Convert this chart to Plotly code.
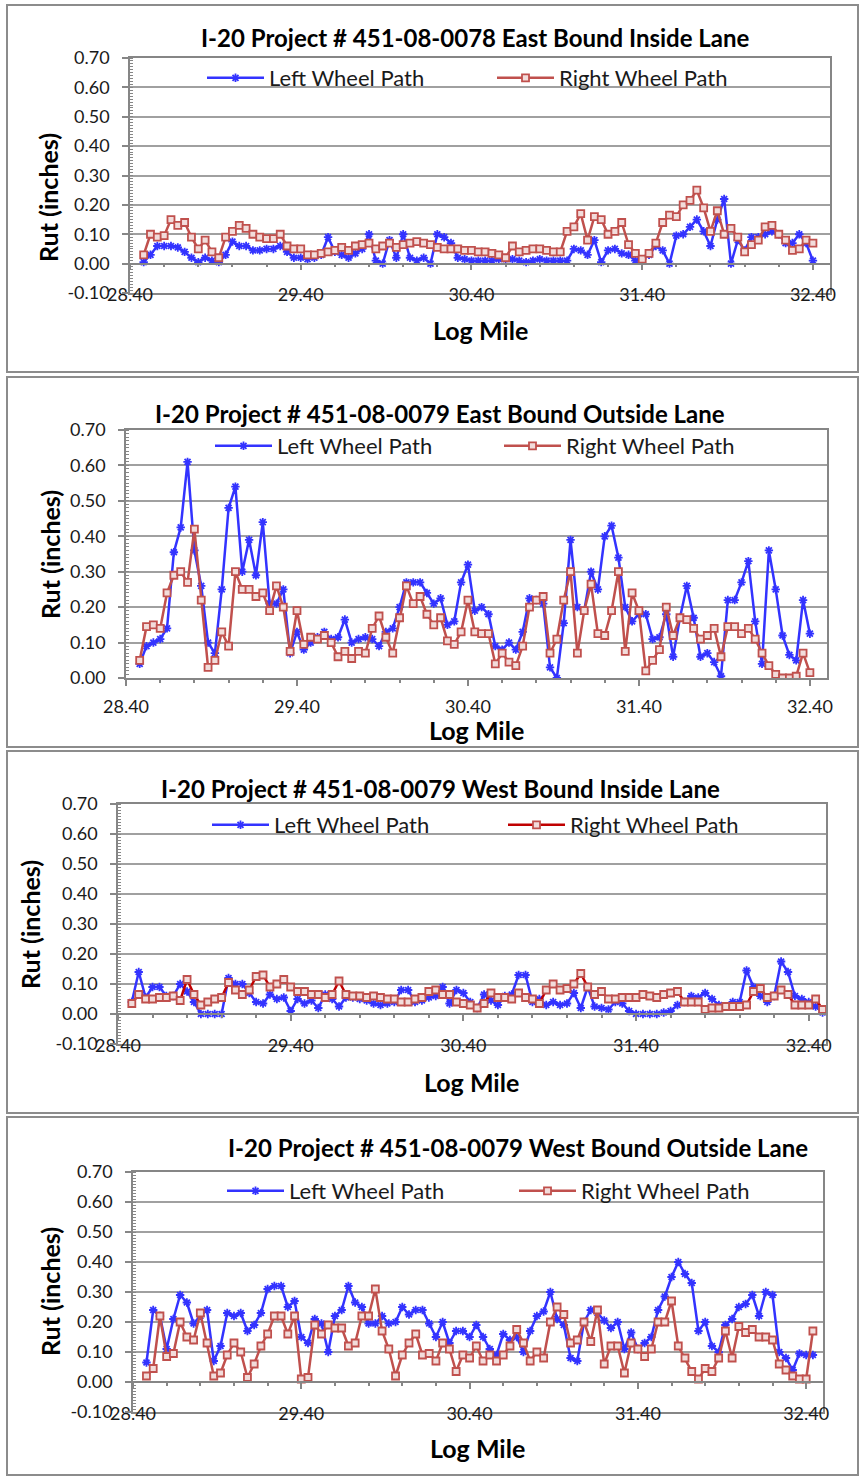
import plotly.graph_objects as go

# Log mile stations (every 0.04 mile)
MILES = [28.48, 28.52, 28.56, 28.60, 28.64, 28.68, 28.72, 28.76, 28.80, 28.84,
         28.88, 28.92, 28.96, 29.00, 29.04, 29.08, 29.12, 29.16, 29.20, 29.24,
         29.28, 29.32, 29.36, 29.40, 29.44, 29.48, 29.52, 29.56, 29.60, 29.64,
         29.68, 29.72, 29.76, 29.80, 29.84, 29.88, 29.92, 29.96, 30.00, 30.04,
         30.08, 30.12, 30.16, 30.20, 30.24, 30.28, 30.32, 30.36, 30.40, 30.44,
         30.48, 30.52, 30.56, 30.60, 30.64, 30.68, 30.72, 30.76, 30.80, 30.84,
         30.88, 30.92, 30.96, 31.00, 31.04, 31.08, 31.12, 31.16, 31.20, 31.24,
         31.28, 31.32, 31.36, 31.40, 31.44, 31.48, 31.52, 31.56, 31.60, 31.64,
         31.68, 31.72, 31.76, 31.80, 31.84, 31.88, 31.92, 31.96, 32.00, 32.04,
         32.08, 32.12, 32.16, 32.20, 32.24, 32.28, 32.32, 32.36, 32.40, 32.44,
         32.48]

X_TICKS = [28.4, 29.4, 30.4, 31.4, 32.4]
X_LABELS = ["28.40", "29.40", "30.40", "31.40", "32.40"]
Y_TICKS = [-0.1, 0.0, 0.1, 0.2, 0.3, 0.4, 0.5, 0.6, 0.7]
Y_LABELS = ["-0.10", "0.00", "0.10", "0.20", "0.30", "0.40", "0.50", "0.60", "0.70"]

TITLES = [
    "I-20 Project # 451-08-0078 East Bound Inside Lane",
    "I-20 Project # 451-08-0079 East Bound Outside Lane",
    "I-20 Project # 451-08-0079 West Bound Inside Lane",
    "I-20 Project # 451-08-0079 West Bound Outside Lane",
]
SERIES_NAMES = ["Left Wheel Path", "Right Wheel Path"]

# Rut depth (inches) – 0078 East Bound Inside Lane
eb_in_left = [0.005, 0.03, 0.06, 0.06, 0.06, 0.055, 0.04, 0.02, 0.005, 0.02,
              0.01, 0.005, 0.03, 0.075, 0.06, 0.06, 0.045, 0.045, 0.05, 0.05,
              0.06, 0.04, 0.02, 0.02, 0.015, 0.02, 0.03, 0.09, 0.04, 0.03,
              0.02, 0.035, 0.05, 0.10, 0.01, 0.0, 0.08, 0.02, 0.10, 0.02,
              0.01, 0.02, 0.0, 0.10, 0.09, 0.07, 0.02, 0.015, 0.01,
              0.01, 0.01, 0.01, 0.015, 0.015, 0.015, 0.01, 0.005, 0.01, 0.015,
              0.01, 0.01, 0.01, 0.01, 0.05, 0.045, 0.03, 0.08, 0.005, 0.045,
              0.05, 0.035, 0.03, 0.01, 0.015, 0.03, 0.06, 0.045, 0.0, 0.095,
              0.10, 0.125, 0.15, 0.11, 0.06, 0.15, 0.22, 0.0, 0.08, 0.045,
              0.09, 0.09, 0.10, 0.11, 0.10, 0.07, 0.07, 0.10, 0.07, 0.01]
eb_in_right = [0.03, 0.10, 0.09, 0.095, 0.15, 0.13, 0.14, 0.09, 0.05, 0.08,
               0.04, 0.02, 0.09, 0.11, 0.13, 0.12, 0.10, 0.09, 0.085, 0.085,
               0.10, 0.06, 0.05, 0.05, 0.03, 0.03, 0.035, 0.04, 0.045, 0.055,
               0.045, 0.06, 0.065, 0.07, 0.05, 0.06, 0.07, 0.055, 0.065, 0.07,
               0.075, 0.07, 0.065, 0.055, 0.05, 0.05, 0.05, 0.045, 0.045,
               0.04, 0.04, 0.035, 0.03, 0.02, 0.06, 0.04, 0.045, 0.05, 0.05,
               0.045, 0.04, 0.04, 0.11, 0.125, 0.17, 0.08, 0.16, 0.15, 0.10,
               0.11, 0.14, 0.065, 0.035, 0.015, 0.035, 0.07, 0.14, 0.165, 0.16,
               0.20, 0.215, 0.25, 0.19, 0.11, 0.18, 0.10, 0.12, 0.09, 0.04,
               0.065, 0.08, 0.125, 0.13, 0.10, 0.08, 0.045, 0.05, 0.08, 0.07]

# 0079 East Bound Outside Lane
eb_out_left = [0.04, 0.09, 0.10, 0.11, 0.14, 0.355, 0.425, 0.61, 0.36, 0.26,
               0.10, 0.07, 0.25, 0.48, 0.54, 0.30, 0.39, 0.29, 0.44, 0.21,
               0.21, 0.25, 0.07, 0.13, 0.08, 0.10, 0.115, 0.13, 0.11, 0.115,
               0.165, 0.10, 0.11, 0.115, 0.11, 0.09, 0.13, 0.14, 0.20, 0.27,
               0.27, 0.27, 0.24,
               0.21, 0.225, 0.15, 0.16, 0.27, 0.32, 0.19, 0.20, 0.18, 0.09,
               0.08, 0.10, 0.08, 0.13, 0.225, 0.22, 0.21, 0.03, 0.0, 0.155,
               0.39, 0.20, 0.19, 0.30, 0.25, 0.40, 0.43, 0.34, 0.20, 0.16,
               0.18, 0.18, 0.11, 0.115, 0.18, 0.06, 0.17, 0.26, 0.17, 0.06,
               0.07, 0.045, 0.005, 0.22, 0.22, 0.27, 0.33, 0.16, 0.04, 0.36,
               0.25, 0.12, 0.065, 0.05, 0.22, 0.125]
eb_out_right = [0.05, 0.145, 0.15, 0.14, 0.24, 0.29, 0.30, 0.27, 0.42, 0.22,
                0.03, 0.05, 0.13, 0.09, 0.30, 0.25, 0.25, 0.23, 0.24, 0.19,
                0.26, 0.20, 0.075, 0.19, 0.095, 0.115, 0.11, 0.12, 0.10, 0.06,
                0.075, 0.055, 0.075, 0.07, 0.14, 0.175, 0.115, 0.07, 0.17, 0.26,
                0.21, 0.23, 0.18,
                0.15, 0.17, 0.105, 0.095, 0.13, 0.22, 0.13, 0.125, 0.125, 0.04,
                0.07, 0.045, 0.035, 0.09, 0.20, 0.22, 0.23, 0.07, 0.11, 0.22,
                0.30, 0.07, 0.19, 0.265, 0.125, 0.12, 0.19, 0.30, 0.075, 0.24,
                0.19, 0.02, 0.05, 0.08, 0.20, 0.12, 0.17, 0.165, 0.14, 0.11,
                0.12, 0.14, 0.06, 0.145, 0.145, 0.125, 0.14, 0.11, 0.07, 0.035,
                0.01, 0.0, 0.0, 0.005, 0.07, 0.015]

# 0079 West Bound Inside Lane
wb_in_left = [0.04, 0.14, 0.055, 0.09, 0.09, 0.06, 0.06, 0.10, 0.075, 0.04,
              0.0, 0.0, 0.0, 0.0, 0.12, 0.10, 0.10, 0.07, 0.04, 0.035,
              0.065, 0.05, 0.055, 0.01, 0.05, 0.035, 0.045, 0.02, 0.065, 0.05,
              0.025, 0.055, 0.055, 0.05, 0.045, 0.035, 0.03, 0.035, 0.04, 0.08,
              0.08, 0.04, 0.045, 0.055, 0.06, 0.09, 0.035,
              0.08, 0.07, 0.04, 0.02, 0.065, 0.045, 0.03, 0.06, 0.065, 0.13,
              0.13, 0.04, 0.05, 0.03, 0.04, 0.03, 0.035, 0.07, 0.02, 0.09,
              0.025, 0.02, 0.015, 0.04, 0.035, 0.01, 0.0, 0.0, 0.0, 0.0,
              0.005, 0.01, 0.03, 0.04, 0.06, 0.055, 0.07, 0.05, 0.03, 0.025,
              0.04, 0.04, 0.145, 0.09, 0.06, 0.04, 0.06, 0.175, 0.14, 0.06,
              0.05, 0.04, 0.025, 0.005]
wb_in_right = [0.035, 0.065, 0.05, 0.05, 0.055, 0.055, 0.06, 0.045, 0.115, 0.065,
               0.03, 0.04, 0.05, 0.055, 0.105, 0.08, 0.065, 0.08, 0.125, 0.13,
               0.09, 0.10, 0.115, 0.09, 0.075, 0.075, 0.065, 0.065, 0.055, 0.065,
               0.11, 0.065, 0.06, 0.06, 0.055, 0.06, 0.055, 0.05, 0.05, 0.04,
               0.04, 0.05, 0.055, 0.075, 0.08, 0.065, 0.065,
               0.04, 0.035, 0.03, 0.02, 0.035, 0.07, 0.055, 0.055, 0.05, 0.07,
               0.055, 0.05, 0.035, 0.08, 0.10, 0.08, 0.085, 0.10, 0.135, 0.09,
               0.065, 0.075, 0.05, 0.05, 0.055, 0.055, 0.055, 0.065, 0.06, 0.055,
               0.065, 0.07, 0.075, 0.04, 0.04, 0.04, 0.015, 0.02, 0.02, 0.025,
               0.025, 0.025, 0.03, 0.075, 0.085, 0.055, 0.06, 0.08, 0.065, 0.03,
               0.03, 0.03, 0.05, 0.015]

# 0079 West Bound Outside Lane
wb_out_left = [0.065, 0.24, 0.22, 0.11, 0.21, 0.29, 0.265, 0.195, 0.22, 0.24,
               0.07, 0.12, 0.23, 0.22, 0.23, 0.17, 0.19, 0.23, 0.31, 0.32,
               0.32, 0.25, 0.27, 0.15, 0.13, 0.21, 0.195, 0.10, 0.22, 0.24,
               0.32, 0.265, 0.25, 0.195, 0.195, 0.22, 0.195, 0.20, 0.25, 0.225,
               0.24, 0.24, 0.195,
               0.15, 0.20, 0.13, 0.17, 0.17, 0.15, 0.19, 0.15, 0.11, 0.09,
               0.16, 0.14, 0.15, 0.10, 0.17, 0.22, 0.235, 0.30, 0.21, 0.19,
               0.08, 0.07, 0.20, 0.24, 0.23, 0.205, 0.18, 0.20, 0.11, 0.165,
               0.11, 0.13, 0.15, 0.24, 0.285, 0.35, 0.40, 0.36, 0.33, 0.17,
               0.20, 0.12, 0.10, 0.19, 0.21, 0.25, 0.26, 0.29, 0.22, 0.30,
               0.29, 0.10, 0.08, 0.04, 0.095, 0.09, 0.09]
wb_out_right = [0.02, 0.045, 0.22, 0.085, 0.095, 0.20, 0.15, 0.14, 0.23, 0.13,
                0.02, 0.03, 0.09, 0.13, 0.10, 0.015, 0.06, 0.12, 0.16, 0.22,
                0.22, 0.16, 0.22, 0.01, 0.015, 0.19, 0.16, 0.19, 0.18, 0.18,
                0.12, 0.13, 0.22, 0.22, 0.31, 0.17, 0.11, 0.02, 0.09, 0.13,
                0.16, 0.09, 0.095,
                0.07, 0.13, 0.11, 0.035, 0.09, 0.08, 0.12, 0.07, 0.09, 0.07,
                0.09, 0.12, 0.175, 0.13, 0.07, 0.10, 0.08, 0.20, 0.25, 0.225,
                0.13, 0.14, 0.20, 0.135, 0.24, 0.06, 0.12, 0.12, 0.03, 0.13,
                0.11, 0.085, 0.11, 0.20, 0.20, 0.27, 0.12, 0.08, 0.035, 0.01,
                0.045, 0.035, 0.08, 0.17, 0.08, 0.185, 0.165, 0.175, 0.15, 0.15,
                0.14, 0.06, 0.04, 0.02, 0.01, 0.01, 0.17]

SERIES = [
    (eb_in_left, eb_in_right),
    (eb_out_left, eb_out_right),
    (wb_in_left, wb_in_right),
    (wb_out_left, wb_out_right),
]

W, H = 859, 1477
FONT = "Lato"
BLUE = "#3333FF"
RED = "#C0504D"
AXIS = "#868686"
GRID = "#A0A0A0"
TEXT = "#1a1a1a"


def fx(px):
    return px / W


def fy(py):
    return 1 - py / H


# Panel layout in pixels: frame, plot area, text positions
PANELS = [
    dict(frame=(7, 5, 858, 372), plot=(130, 58, 830, 293), ymin=-0.1,
         title=(476, 38), ytitle=(48, 198), xtitle=(480, 330),
         legend=((210, 78), (500, 78)), red_line=RED),
    dict(frame=(7, 377, 858, 747), plot=(126, 430, 827, 678), ymin=0.0,
         title=(440, 413), ytitle=(50, 555), xtitle=(477, 730),
         legend=((218, 446), (507, 446)), red_line=RED),
    dict(frame=(7, 751, 858, 1113), plot=(118, 804, 826, 1044), ymin=-0.1,
         title=(440, 788), ytitle=(30, 925), xtitle=(471, 1082),
         legend=((215, 825), (511, 825)), red_line="#C00000"),
    dict(frame=(7, 1117, 858, 1475), plot=(133, 1172, 823, 1412), ymin=-0.1,
         title=(518, 1147), ytitle=(50, 1292), xtitle=(478, 1448),
         legend=((230, 1191), (522, 1191)), red_line=RED),
]

fig = go.Figure()
layout = dict(
    width=W, height=H, margin=dict(l=0, r=0, t=0, b=0, autoexpand=False),
    paper_bgcolor="white", plot_bgcolor="white",
    font=dict(family=FONT, color=TEXT), showlegend=True,
    shapes=[], annotations=[],
)

leg_idx = 0
for i, p in enumerate(PANELS, start=1):
    left, right = SERIES[i - 1]
    xa, ya = f"x{i}", f"y{i}"
    legs = []
    for _ in range(2):
        leg_idx += 1
        legs.append("legend" if leg_idx == 1 else f"legend{leg_idx}")

    fig.add_trace(go.Scatter(
        x=MILES[:len(left)], y=left, name=SERIES_NAMES[0], mode="lines+markers",
        line=dict(color=BLUE, width=2.5),
        marker=dict(symbol="asterisk-open", size=7, line=dict(color=BLUE, width=1.8)),
        xaxis=xa, yaxis=ya, legend=legs[0]))
    fig.add_trace(go.Scatter(
        x=MILES[:len(right)], y=right, name=SERIES_NAMES[1], mode="lines+markers",
        line=dict(color=p["red_line"], width=2.5),
        marker=dict(symbol="square", size=7, color="#F2DCDB",
                    line=dict(color=RED, width=1.8)),
        xaxis=xa, yaxis=ya, legend=legs[1]))

    x0, y0, x1, y1 = p["plot"]
    crossing = p["ymin"] < 0
    xrange_ = [28.4, 32.5]
    xax = dict(
        domain=[fx(x0), fx(x1)], anchor=ya, range=xrange_, automargin=False,
        tickmode="array", tickvals=X_TICKS, ticktext=X_LABELS,
        showline=True, mirror=True, linecolor=AXIS, linewidth=1.5,
        showgrid=False, zeroline=False,
        tickfont=dict(size=18, color=TEXT, family=FONT),
    )
    if crossing:
        xax.update(ticks="", ticklabelstandoff=-15)
    else:
        xax.update(ticks="outside", ticklen=6, tickcolor=AXIS, tickwidth=1.5,
                   minor=dict(ticks="outside", ticklen=3, dtick=0.2, tick0=28.4,
                              tickcolor=AXIS, tickwidth=1.5, showgrid=False),
                   ticklabelstandoff=6)
    layout[f"xaxis{i}"] = xax

    yax = dict(
        domain=[fy(y1), fy(y0)], anchor=xa, range=[p["ymin"], 0.7], automargin=False,
        tickmode="array",
        tickvals=Y_TICKS if crossing else Y_TICKS[1:],
        ticktext=Y_LABELS if crossing else Y_LABELS[1:],
        showline=True, mirror=True, linecolor=AXIS, linewidth=1.5,
        showgrid=True, gridcolor=GRID, gridwidth=1.5, zeroline=False,
        ticks="outside", ticklen=6, tickcolor=AXIS, tickwidth=1.5,
        minor=dict(ticks="inside", ticklen=3, dtick=0.01, tick0=0,
                   tickcolor=AXIS, tickwidth=1, showgrid=False),
        tickfont=dict(size=18, color=TEXT, family=FONT),
        ticklabelstandoff=9,
    )
    layout[f"yaxis{i}"] = yax

    if crossing:
        # horizontal axis line crossing at zero, with its tick marks
        k = 4 + i
        fig.add_trace(go.Scatter(x=[], y=[], xaxis=f"x{k}", yaxis=ya,
                                 showlegend=False, hoverinfo="skip"))
        zero_py = y0 + (y1 - y0) * 0.7 / 0.8
        layout[f"xaxis{k}"] = dict(
            overlaying=xa, anchor="free", position=fy(zero_py), range=xrange_,
            automargin=False,
            tickmode="array", tickvals=X_TICKS, showticklabels=False,
            showline=True, linecolor=AXIS, linewidth=1.5, showgrid=False,
            zeroline=False, ticks="outside", ticklen=6, tickcolor=AXIS, tickwidth=1.5,
            minor=dict(ticks="outside", ticklen=3, dtick=0.2, tick0=28.4,
                       tickcolor=AXIS, tickwidth=1.5, showgrid=False),
        )

    # one legend per series, placed on the top band of the plot
    for leg, (lx, ly) in zip(legs, p["legend"]):
        layout[leg] = dict(
            orientation="h", x=fx(lx - 8), y=fy(ly), xanchor="left", yanchor="middle",
            xref="paper", yref="paper", itemwidth=57,
            bgcolor="rgba(0,0,0,0)", borderwidth=0,
            font=dict(size=22, color=TEXT, family=FONT),
        )

    # frame around the panel
    fx0, fy0, fx1, fy1 = p["frame"]
    layout["shapes"].append(dict(
        type="rect", xref="paper", yref="paper",
        x0=fx(fx0), x1=fx(fx1), y0=fy(fy1), y1=fy(fy0),
        line=dict(color="#8c8c8c", width=2), fillcolor="rgba(0,0,0,0)", layer="below"))

    tx, ty = p["title"]
    layout["annotations"].append(dict(
        text=f"<b>{TITLES[i - 1]}</b>", x=fx(tx), y=fy(ty), xref="paper", yref="paper",
        xanchor="center", yanchor="middle", showarrow=False,
        font=dict(size=24, color="black", family=FONT)))
    ax_, ay_ = p["ytitle"]
    layout["annotations"].append(dict(
        text="<b>Rut (inches)</b>", x=fx(ax_), y=fy(ay_), xref="paper", yref="paper",
        xanchor="center", yanchor="middle", showarrow=False, textangle=-90,
        font=dict(size=25, color="black", family=FONT)))
    bx, by = p["xtitle"]
    layout["annotations"].append(dict(
        text="<b>Log Mile</b>", x=fx(bx), y=fy(by), xref="paper", yref="paper",
        xanchor="center", yanchor="middle", showarrow=False,
        font=dict(size=25, color="black", family=FONT)))

fig.update_layout(**layout)
fig.write_html("out.html")
